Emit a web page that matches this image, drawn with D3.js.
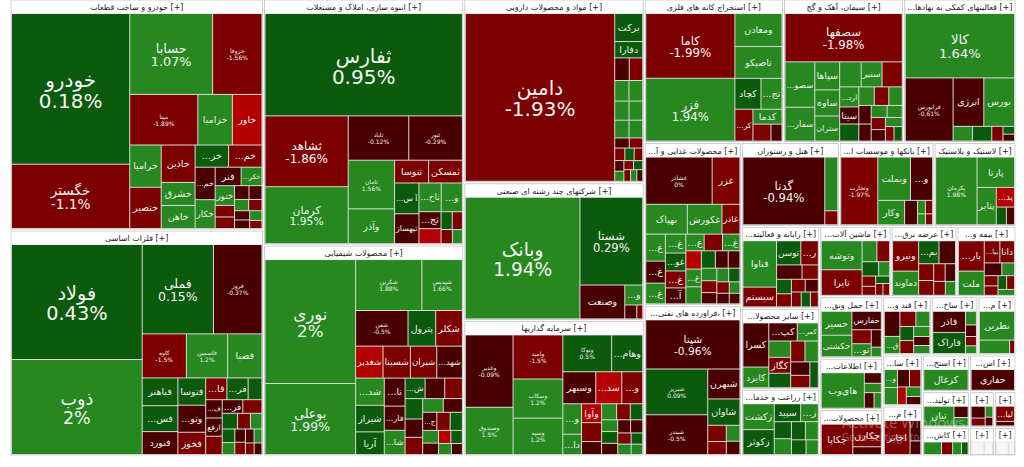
<!DOCTYPE html>
<html><head><meta charset="utf-8">
<script src="https://cdn.jsdelivr.net/npm/d3@7"></script>
<style>html,body{margin:0;padding:0;background:#fff;}svg{display:block;}</style>
</head><body>
<svg id="c" width="1024" height="467"></svg>
<script>
const sectorNames = [
"خودرو و ساخت قطعات","فلزات اساسی","انبوه سازی، املاک و مستغلات","محصولات شیمیایی",
"مواد و محصولات دارویی","شرکتهای چند رشته ای صنعتی","سرمایه گذاریها","استخراج کانه های فلزی",
"سیمان، آهک و گچ","فعالیتهای کمکی به نهادهای مالی واسط","محصولات غذایی و آشامیدنی به جز قند و شکر",
"هتل و رستوران","بانکها و موسسات اعتباری","لاستیک و پلاستیک","رایانه و فعالیتهای وابسته به آن",
"ماشین آلات و تجهیزات","عرضه برق، گاز، بخار و آب گرم","بیمه وصندوق بازنشستگی به جز تامین اجتماعی",
"فراورده های نفتی، کک و سوخت هسته ای","سایر محصولات کانی غیرفلزی","زراعت و خدمات وابسته",
"حمل ونقل، انبارداری و ارتباطات","قند و شکر","ساخت محصولات فلزی","منسوجات","اطلاعات و ارتباطات",
"سایر واسطه گریهای مالی","استخراج زغال سنگ","استخراج نفت گاز و خدمات جنبی","محصولات کاغذی","مخابرات",
"تولید محصولات کامپیوتری الکترونیکی","خدمات فنی و مهندسی","واسطه گری های مالی و پولی","کاشی و سرامیک",
"ماشین آلات و دستگاه های برقی","دباغی، پرداخت چرم و ساخت پاپوش"];
const sectorAreas = [58190,56925,49000,42000,32940,24660,24300,19877,17160,16016,15714,8134,7885,6806,6400,
5000,4623,4140,14550,6300,5200,3844,2800,2700,2200,3224,2000,1728,1692,2900,1960,1680,875,770,1344,700,616];

const s01 = [["خودرو",17850,0.18],["خگستر",7616,-1.1],["حسابا",6720,1.07],["خزوفا",4000,-1.56],["مینا",3450,-1.89],
["خزامیا",1750,1.2],["خاور",1500,-3.2],["خرامیا",1333,1.5],["ختصیر",1300,-1.5],["خاذین",1270,-1.4],["خشرق",782,1.3],
["خاهن",782,1.5],["...خم",651,-0.5],["...خز",744,0.5],["...خم",744,-1.3],["خکار",580,1.4],["...خکر",384,1.2],["ختور",384,1.1],
["فنر",480,-0.6],["...خ",224,-1.3],["...خ",224,-1.3],["",200,-0.5],["",180,-0.5],["",160,1.2],["",150,-1.5],["",140,-0.6],
["",130,-0.5],["",120,1.3],["",100,-1.4]];
const s02 = [["فولاد",14950,0.43],["ذوب",12350,2],["فملی",6336,0.15],["فروز",4312,-0.37],["کاوه",1935,-1.5],["فاسمین",1806,1.2],
["فصبا",1505,1.3],["فباهنر",986,0.5],["...فس",918,0.5],["...وتو",748,-0.5],["فنورد",812,-0.5],["فتوسا",756,0.5],["فخوز",616,-1.5],
["...فا",460,-1.5],["فجر",300,0.6],["...فر",280,-0.5],["...ف",300,-0.5],["ارفع",300,-0.6],["...فر",460,0.5],["",300,-1.4],["",260,-1.4],
["",240,0.5],["",200,-1.4],["",180,1.2],["",170,0.5],["",150,1.2],["",140,-0.5],["",130,-1.4],["",120,-0.5],["",110,1.2],["",100,-1.4],["",90,-0.5]];
const s03 = [["ثفارس",20196,0.95],["ثشاهد",5893,-1.86],["کرمان",4731,1.95],["ثاباد",2684,-0.12],["ثنور",2376,-0.29],["ثامان",2254,1.56],
["وآذر",1610,1.3],["ثمسکن",770,-1.5],["ثبهساز",726,-0.5],["ثنوسا",775,-1.5],["...ثاخ",638,1.3],["...و",609,1.3],["...آ س",750,0.5],
["...ثج",374,-0.5],["",330,-3],["",200,0.5],["",180,-1.5],["",160,-1.5],["",140,1.2]];
const s04 = [["نوری",11160,2],["بوعلی",6390,1.99],["شکربن",3350,1.88],["شپدیس",2050,1.66],["شفن",1855,-0.5],["پترول",980,0.5],
["شکلر",945,-1.5],["شغدیر",868,-3],["شیران",837,-1.5],["شسینا",868,-1.5],["...شد",775,1.3],["...شهد",812,-0.5],["...تا",580,-0.5],
["شیراز",756,0.5],["...فار",500,-0.5],["آریا",644,0.5],["...شا",500,1.2],["...ش",408,0.5],["",357,0.5],["...ج",255,-0.5],
["",400,-0.5],["",360,-1.5],["",320,-0.5],["",300,-1.5],["",280,1.2],["",260,-0.5],["",240,-1.5],["",220,0.5],["",200,1.2],
["",180,-0.5],["",160,-3],["",150,0.5],["",140,1.2],["",120,-0.5]];
const s05 = [["دامین",25688,-1.93],["برکت",806,0.5],["دفارا",468,0.5],["",338,-0.5],["",312,-1.5],["",300,1.2],["",290,1.2],["",280,1.2],
["",270,1.2],["",260,1.2],["",250,1.2],["",150,-0.5],["",140,-1.5],["",130,-1.5],["",120,0.5],["",110,-1.5],["",100,-0.5],["",95,1.2],
["",90,-1.5],["",85,0.5],["",80,-1.5],["",75,1.2],["",70,-0.5]];
const s06 = [["وبانک",14030,1.94],["شستا",5544,0.29],["وصنعت",1530,-0.5],["...و",360,1.3],["",168,-0.5],["",84,-1.5]];
const s07 = [["وغدیر",3456,-0.09],["وامید",2200,-1.5],["وسپه",1813,1.2],["...وهام",1147,0.5],["وصندوق",2256,1.5],["وتوکا",1800,0.5],
["وسکاب",1950,1.2],["وسبهر",1056,-0.5],["...سد",832,-3],["...و",672,-1.5],["...و",570,1.2],["...دا",380,1.2],["وآوا",380,-3],
["",380,-1.5],["",190,1.2],["",260,-0.5],["",240,1.2],["",220,-1.5],["",200,0.5],["",190,0.5],["",180,-0.5],["",170,-0.5],
["",160,-0.5],["",150,-1.5],["",140,1.2],["",130,0.5],["",120,1.2]];
const s08 = [["کاما",5785,-1.99],["فزر",5607,1.94],["ومعادن",1560,1.2],["تاصیکو",1500,1.2],["کچاد",806,0.5],["...تج",651,1.2],
["...کر",576,-1.5],["کدما",435,1.2],["",306,-1.5],["",187,-0.5]];
const s09 = [["سصفها",5900,-1.98],["...سصو",1410,1.2],["...سفار",1050,1.2],["سپاها",725,1.2],["ساوه",675,1.2],["ستران",650,1.2],
["سنیر",544,1.2],["سدشت",527,-1.5],["",560,1.2],["...ارد",400,1.2],["سیتا",340,-0.5],["",340,0.5],["",300,1.2],["",280,-1.5],
["",260,1.2],["",240,-0.5],["",220,-0.5],["",200,1.2],["",190,1.2],["",180,-1.5],["",170,-0.5],["",160,1.2],["",130,-1.5],["",125,0.5]];
const s10 = [["کالا",7040,1.64],["فرابورس",3024,-0.61],["انرژی",1488,-0.5],["بورس",1488,1.2],["",285,1.2],["",285,0.5],
["",165,-1.5],["",90,0.5],["",80,-0.5]];
const s11 = [["غشاذر",3082,-0.001],["غزر",1288,-1.5],["بهپاک",1218,1.2],["غکورش",1015,1.2],["...غ",522,1.2],["غاذر",525,-1.5],
["...غ",425,-0.5],["...غ",300,1.2],["...غ",285,1.2],["...غ",270,1.2],["...غ",400,1.2],["...غ",380,1.2],["...غو",360,0.5],
["...غ",340,-1.5],["...آ",320,-0.5],["",300,-1.5],["",280,-3],["",260,1.2],["",240,0.5],["",220,-0.5],["",200,-0.5],["",190,1.2],
["",180,-1.5],["",170,-0.5],["",160,1.2],["",150,0.5],["",140,-1.5],["",130,-0.5],["",120,1.2],["",110,-0.5]];
const s12 = [["گدنا",5576,-0.94],["",702,1.2],["",182,-1.5]];
const s13 = [["وتجارت",2584,-1.97],["وبملت",1462,1.2],["...و",989,-0.5],["وکار",675,1.2],["",325,-0.5],["",110,1.2],
["",100,-1.5],["",90,1.2],["",80,-1.5]];
const s14 = [["پکرمان",2814,1.98],["پارتا",1140,1.2],["پتایر",722,1.2],["...پد",360,-3],["",180,0.5],["",144,-0.5]];
const s15 = [["فناوا",1598,1.2],["سیستم",680,-1.5],["توسن",600,0.5],["...ر",432,-1.5],["",375,-0.5],["",240,-1.5],["",220,0.5],
["",200,-1.5],["",180,-1.5],["",170,-0.5],["",150,-1.5],["",140,0.5],["",120,-1.5]];
const s16 = [["وتوشه",1360,1.2],["تایرا",1200,-1.5],["",357,1.2],["",273,0.5],["",306,-1.5],["",180,1.2],["",160,-1.5],
["",140,-1.5],["",120,0.5],["",100,-1.5],["",90,-1.5]];
const s17 = [["ونیرو",783,-1.5],["دماوند",621,1.2],["...بم",462,0.5],["",374,-0.5],["",250,-1.5],["",220,-1.5],["",200,-1.5],
["",180,-0.5],["",160,-1.5],["",140,1.2]];
const s18 = [["...بار",725,-1.5],["ملت",575,1.2],["...بیا",320,-1.5],["دانا",300,-1.5],["",208,-0.5],["",150,1.2],["",130,-1.5],
["",120,-1.5],["",110,0.5],["",100,-1.5],["",90,1.2]];
const s19 = [["شپنا",3844,-0.96],["شبریز",2356,0.09],["شبندر",2046,-0.5],["شبهرن",800,-0.5],["شاوان",704,0.5],["",250,-1.5],
["",200,-1.5],["",180,1.2],["",150,-0.5]];
const s20 = [["کسرا",1152,-0.5],["کایزد",540,1.2],["...کپ",520,-0.5],["...کمر",384,1.2],["کگاز",351,-1.5],["...ک",221,0.5],
["",360,1.2],["",320,0.5],["",300,-1.5],["",280,1.2],["",260,-0.5],["",240,-1.5]];
const s21 = [["زکشت",832,1.2],["زکوثر",800,0.5],["سپید",486,0.5],["...ز",324,1.2],["",300,0.5],["",280,1.2],["",260,0.5],
["",240,1.2],["",220,0.5],["",185,1.2]];
const s22 = [["حسیر",756,1.2],["حکشتی",680,1.2],["حفارس",560,-0.5],["...تو",260,1.2],["",182,-0.5],["",280,-1.5],["",100,1.2]];
const s23 = [["...قفا",484,-0.5],["...ق",330,1.2],["",300,-1.5],["",260,1.2],["",240,0.5],["",220,-1.5],["",200,1.2],["",180,-0.5],["",160,1.2]];
const s24 = [["فاذر",814,-0.5],["فاراک",814,0.5],["",176,1.2],["",150,-0.5],["",120,-1.5],["",100,1.2]];
const s25 = [["نطرین",1080,1.2],["",434,1.2],["",70,-1.5]];
const s26 = [["های‌وب",2016,1.03],["",238,-0.5],["",210,1.2],["",200,-0.5],["",150,1.2]];
const s27 = [["...وا",289,1.2],["...و",306,1.2],["",255,-1.5],["",270,-0.5],["",200,-3],["",180,1.2],["",150,-0.5]];
const s28 = [["کزغال",1125,1.2]];
const s29 = [["حفاری",1125,-0.5]];
const s30 = [["چکاپا",1295,-1.5],["چکارن",875,-1.5],["",300,-0.5]];
const s31 = [["اخابر",1200,-1.5],["",300,-0.5],["",200,-0.5]];
const s32 = [["تیان",744,1.2],["",200,-0.5],["",150,1.2]];
const s33 = [["",300,-0.5],["",200,-1.5],["",150,1.2],["",120,-0.5]];
const s34 = [["...لیا",500,-1.5],["",150,-0.5]];
const s35 = [["",400,1.2],["",250,-1.5],["",200,1.2],["",150,0.5]];
const s36 = [["",300,0],["",200,0]];
const s37 = [["",300,0],["",150,0]];
const sectorStocks = [s01,s02,s03,s04,s05,s06,s07,s08,s09,s10,s11,s12,s13,s14,s15,s16,s17,s18,s19,s20,
s21,s22,s23,s24,s25,s26,s27,s28,s29,s30,s31,s32,s33,s34,s35,s36,s37];

const W = 1004, H = 455, X0 = 11, Y0 = 0;
const FONT = "Tahoma, 'DejaVu Sans', sans-serif";
const thr = d3.scaleThreshold().domain([-2.5,-1,0,1]).range(["#b30000","#7d0000","#4a0000","#0c5a0c","#26881f"]);
const color = v => v === 0 ? "#f6f6f6" : thr(v);

const data = {children: sectorNames.map((n,i) => {
  const st = sectorStocks[i];
  const s = d3.sum(st, d => d[1]);
  return {name: n, children: st.map(d => ({name: d[0], v: d[1]*sectorAreas[i]/s, p: d[2]}))};
})};
const root = d3.hierarchy(data).sum(d => d.v || 0).sort((a,b) => b.value - a.value);
d3.treemap().tile(d3.treemapSquarify.ratio(1)).size([W,H])
  .paddingInner(n => n.depth === 0 ? 2 : 1)
  .paddingOuter(n => n.depth === 0 ? 0 : 1)
  .paddingTop(n => n.depth === 1 ? 14 : (n.depth === 0 ? 0 : 1))(root);

const svg = d3.select("#c");
const g = svg.append("g").attr("transform", `translate(${X0},${Y0})`);
const sec = g.selectAll("g.sec").data(root.children).join("g").attr("class","sec");
sec.append("rect").attr("x", d=>d.x0).attr("y", d=>d.y0).attr("width", d=>d.x1-d.x0).attr("height", d=>d.y1-d.y0)
  .attr("fill","#dadada").attr("stroke","#b8b8b8").attr("stroke-width",0.6);
sec.append("rect").attr("x", d=>d.x0+0.5).attr("y", d=>d.y0+0.5).attr("width", d=>Math.max(0,d.x1-d.x0-1)).attr("height", 13)
  .attr("fill","#fff");
sec.each(function(d){
  const w = d.x1-d.x0;
  const t = d3.select(this).append("text").attr("x",(d.x0+d.x1)/2).attr("y",d.y0+10).attr("text-anchor","middle")
    .attr("direction","ltr").attr("font-family",FONT).attr("font-size",8).attr("fill","#1a1a1a");
  const name = d.data.name, maxW = w-5;
  t.text(name+" [+]");
  if (t.node().getComputedTextLength() > maxW) {
    let k = name.length, ok = false;
    while (k > 0) { k--; t.text("..."+name.slice(0,k).trim()+" [+]"); if (t.node().getComputedTextLength() <= maxW) { ok = true; break; } }
    if (!ok) t.text("[+]...");
    if (t.node().getComputedTextLength() > maxW) t.text("[+]");
  }
});

const leaves = g.selectAll("g.leaf").data(root.leaves()).join("g").attr("class","leaf");
leaves.append("rect").attr("x", d=>d.x0).attr("y", d=>d.y0).attr("width", d=>Math.max(0,d.x1-d.x0)).attr("height", d=>Math.max(0,d.y1-d.y0))
  .attr("fill", d=>color(d.data.p));
const fmt = p => `${+p.toFixed(2)}%`;
leaves.each(function(d){
  const w = d.x1-d.x0, h = d.y1-d.y0, a = w*h, name = d.data.name;
  if (!name) return;
  const cx = (d.x0+d.x1)/2, cy = (d.y0+d.y1)/2;
  const sel = d3.select(this);
  if (a >= 4200 && h >= 30 && w >= 30) {
    let fs = Math.min(20, Math.sqrt(a)/6.3);
    const t1 = sel.append("text").text(name), t2 = sel.append("text").text(fmt(d.data.p));
    [t1,t2].forEach(t => t.attr("font-family",FONT).attr("font-size",fs).attr("fill","#f4f4f4").attr("text-anchor","middle").attr("x",cx));
    const mw = Math.max(t1.node().getComputedTextLength(), t2.node().getComputedTextLength());
    if (mw > w-6) { fs *= (w-6)/mw; [t1,t2].forEach(t=>t.attr("font-size",fs)); }
    t1.attr("y", cy - 0.1*fs); t2.attr("y", cy + 0.95*fs);
  } else if (a >= 1700 && h >= 20) {
    const fs = 6;
    sel.append("text").text(name).attr("x",cx).attr("y",cy-1).attr("font-size",fs);
    sel.append("text").text(fmt(d.data.p)).attr("x",cx).attr("y",cy+fs).attr("font-size",fs);
    sel.selectAll("text").attr("font-family",FONT).attr("fill","#f0f0f0").attr("text-anchor","middle");
  } else if (w >= 12 && h >= 11) {
    let fs = 9.5;
    const t = sel.append("text").text(name).attr("x",cx).attr("y",cy+fs*0.35).attr("font-family",FONT)
      .attr("font-size",fs).attr("fill","#f0f0f0").attr("text-anchor","middle");
    const l = t.node().getComputedTextLength();
    if (l > w-2) { fs *= (w-2)/l; if (fs < 6.5) t.remove(); else t.attr("font-size",fs).attr("y",cy+fs*0.35); }
  }
});

// desktop watermark visible in the reference
svg.append("text").attr("x",842).attr("y",428).text("Activate Windows")
  .attr("font-family","'Open Sans', 'Noto Sans', sans-serif").attr("font-size",15).attr("fill","#ffffff").attr("opacity",0.33);
svg.append("text").attr("x",842).attr("y",441).text("Go to Settings to activate Windows.")
  .attr("font-family","'Open Sans', 'Noto Sans', sans-serif").attr("font-size",10).attr("fill","#ffffff").attr("opacity",0.33);
</script>
</body></html>
